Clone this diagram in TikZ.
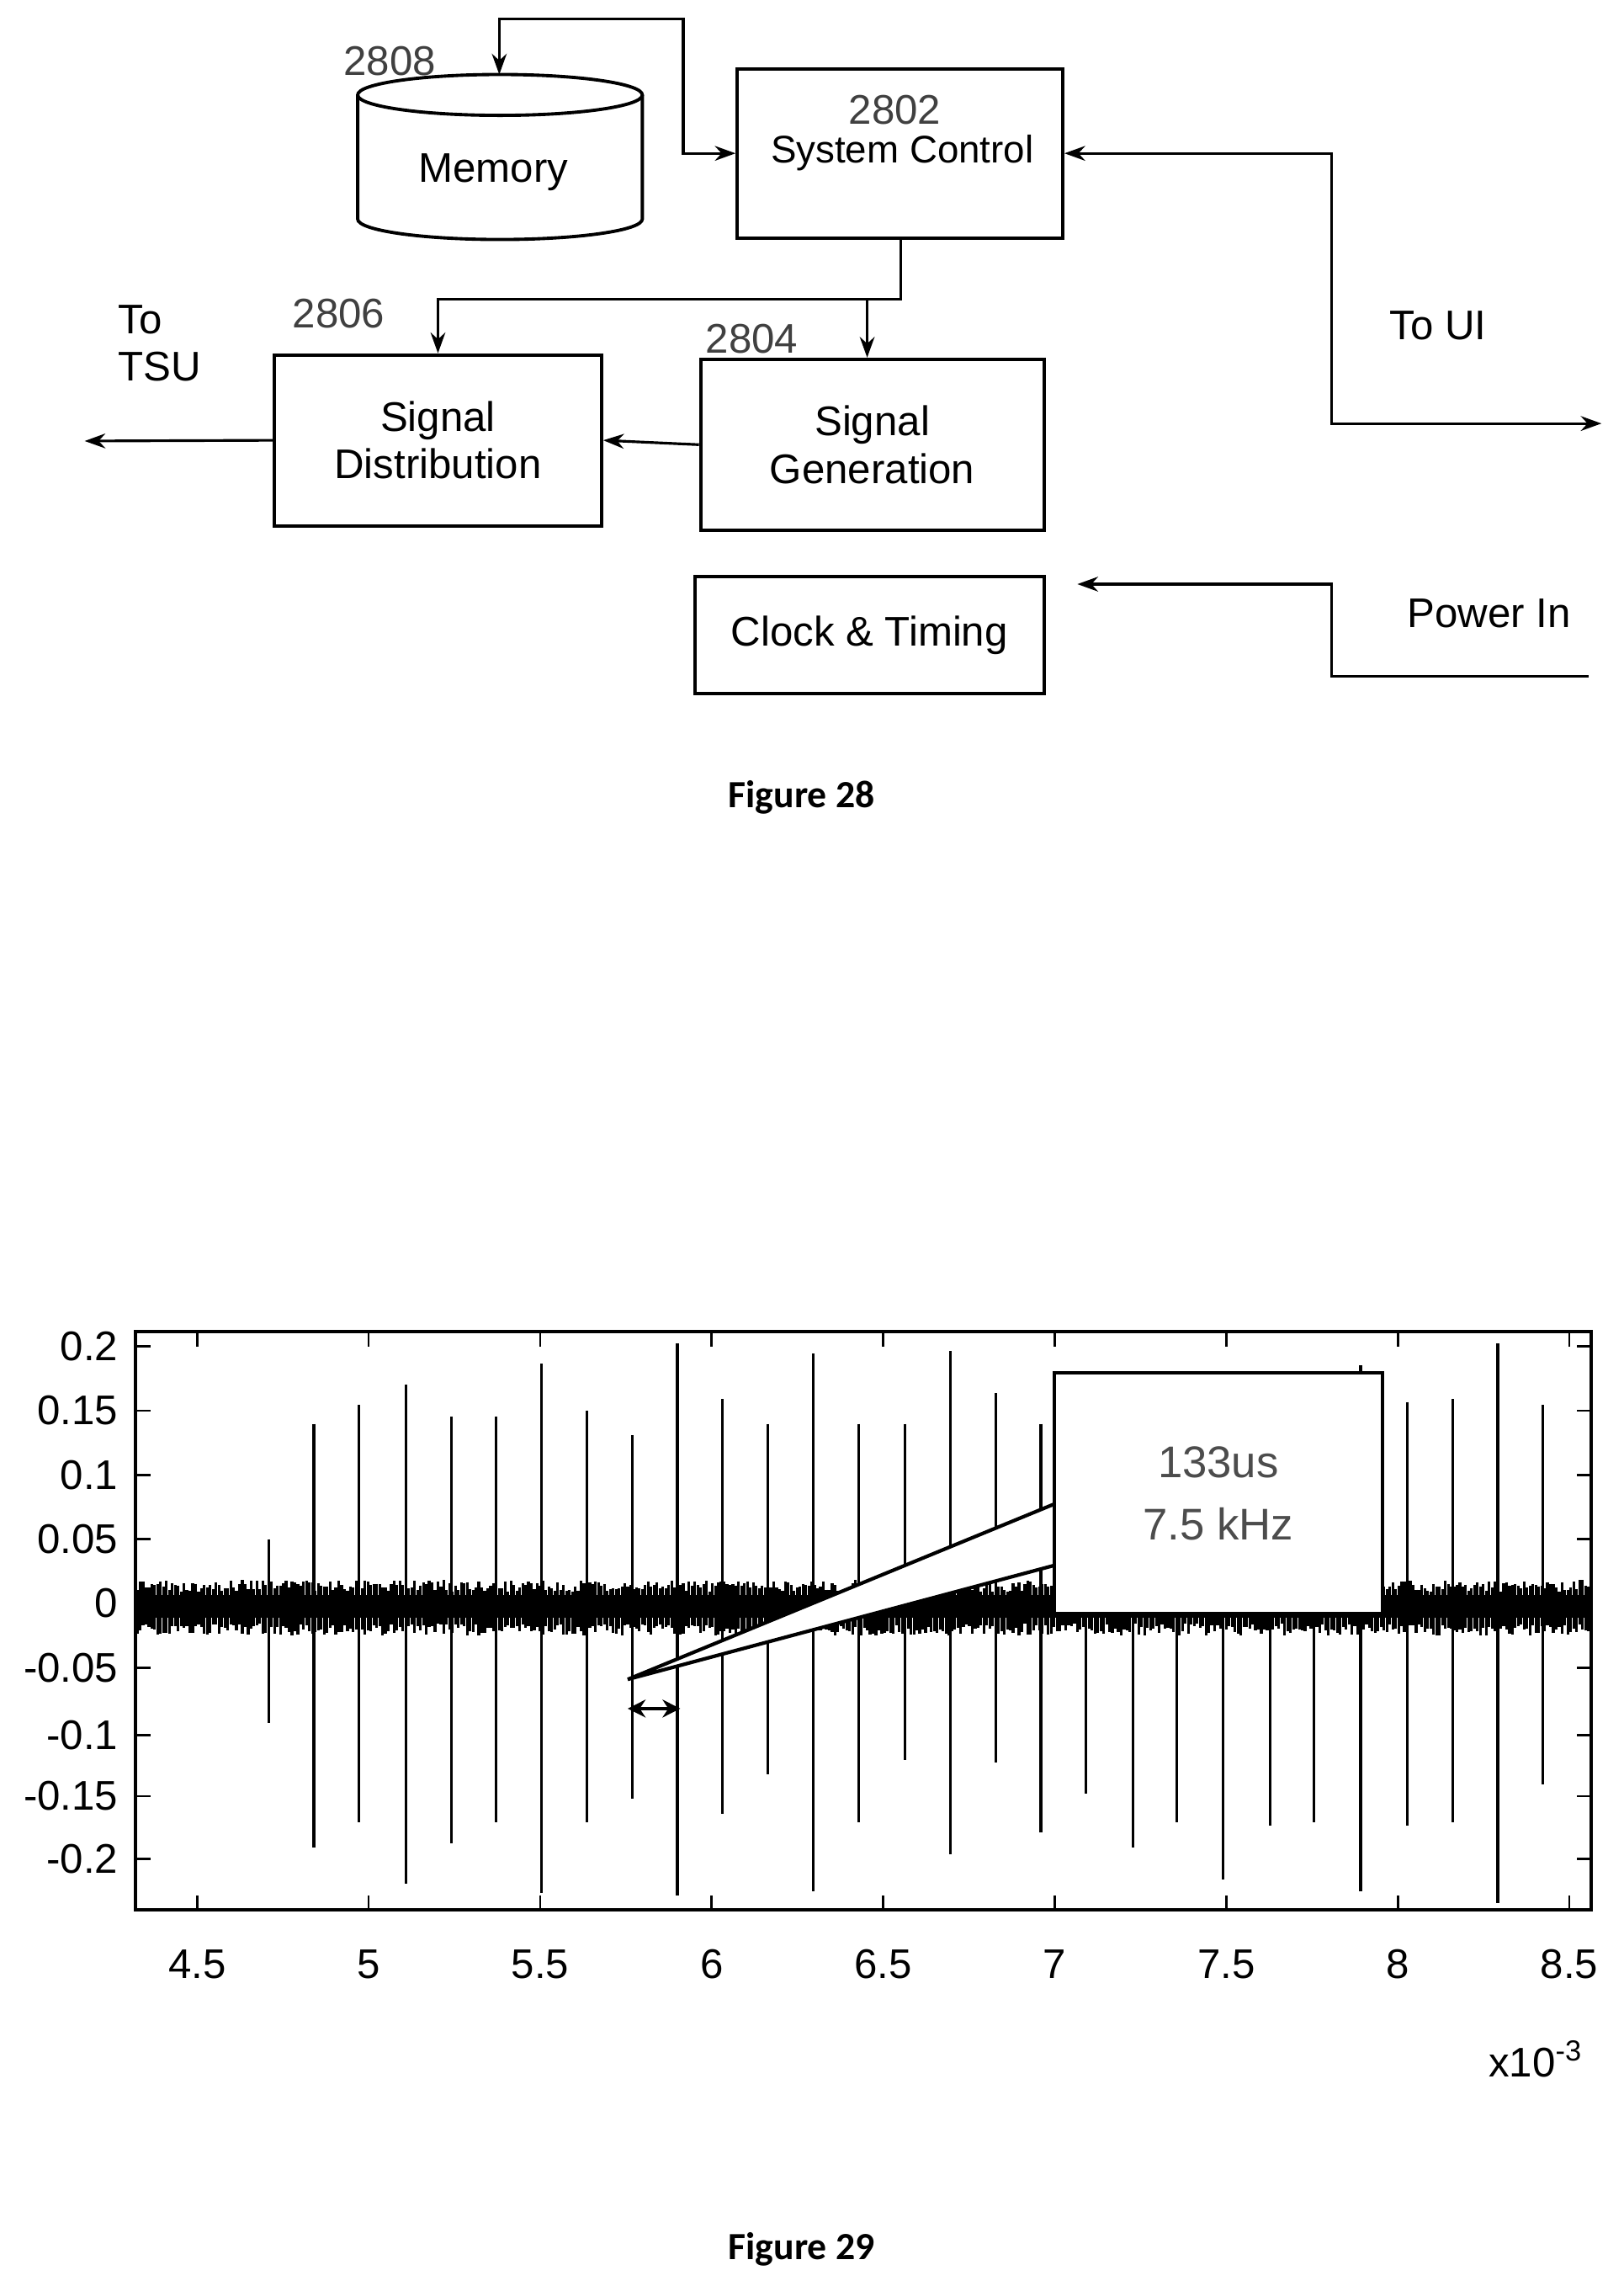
\documentclass[tikz,border=0pt]{standalone}
\usepackage{fontspec}
\setmainfont{Liberation Sans}
\newfontfamily\capfont{Carlito}
\usetikzlibrary{arrows.meta,positioning,calc}

\begin{document}
\begin{tikzpicture}[
    x=0.01735cm, y=-0.01735cm,
    every node/.style={font=\fontsize{14}{16}\selectfont},
    block/.style={rectangle, draw=black, line width=1.1pt, text centered, align=center},
    refnum/.style={text=black!75, font=\fontsize{14}{16}\selectfont},
    arrow/.style={-{Stealth[length=7pt,width=5pt]}, line width=0.9pt},
    spike/.style={line width=0.9pt},
    noise/.style={line width=0.9pt},
    caption/.style={font=\capfont\bfseries\fontsize{13}{15}\selectfont}
]
\useasboundingbox (0,0) rectangle (1112,1562);

% Memory
\draw[line width=1.1pt, fill=white] (245,65) -- (245,150) arc[start angle=180, end angle=0, x radius=97.5, y radius=14] -- (440,65);
\draw[line width=1.1pt] (342.5,65) ellipse[x radius=97.5, y radius=14];
\coordinate (memtop) at (342,51);
\node (mem) at (338,118) {Memory};
\node[refnum] (n2808) at (267,42) {2808};

% Blocks
\node[block, minimum width=3.87cm, minimum height=2.01cm] (sysctl) at (616.5,105) {};
\node[refnum] (n2802) at (613,75) {2802};
\node[font=\fontsize{13}{15}\selectfont] (sclabel) at (618,105) {System Control};
\node[block, minimum width=3.89cm, minimum height=2.03cm] (dist) at (300,301.5) {Signal\\Distribution};
\node[refnum] (n2806) at (232,215) {2806};
\node[block, minimum width=4.08cm, minimum height=2.03cm] (gen) at (597.5,304.5) {Signal\\Generation};
\node[refnum] (n2804) at (515,232) {2804};
\node[block, minimum width=4.15cm, minimum height=1.39cm] (clock) at (595.5,435) {Clock \& Timing};

% Labels
\node[align=left, anchor=west] (tsu) at (74,235) {To\\TSU};
\node (ui) at (985,223) {To UI};
\node (pwr) at (1020,420) {Power In};
\coordinate (tsuend) at (58,302);
\coordinate (uiend) at (1097,290);
\coordinate (pwrend) at (1088,463);
\coordinate (clkin) at (738,400);

% Connections
\draw[arrow, {Stealth[length=7pt,width=5pt]}-{Stealth[length=7pt,width=5pt]}] (memtop) |- (468,13) |- (sysctl.west);
\draw[arrow] (617,163) -- (617,205) -| (dist.north -| 300,0);
\draw[arrow] (594,205) -- (gen.north -| 594,0);
\draw[arrow] (gen.west) -- (dist.east);
\draw[arrow] (dist.west) -- (tsuend);
\draw[arrow, {Stealth[length=7pt,width=5pt]}-{Stealth[length=7pt,width=5pt]}] (sysctl.east) -| (912,290) -- (uiend);
\draw[arrow] (pwrend) -| (912,400) -- (clkin);

\node[caption] (fig28) at (549,546) {Figure 28};

% Plot axes
\draw[line width=1.1pt] (93,912) rectangle (1090,1308);
\foreach \v/\yy in {0.2/922,0.15/966,0.1/1010,0.05/1054,0/1098,-0.05/1142,-0.1/1188,-0.15/1230,-0.2/1273}
  \node[anchor=east] at (88,\yy) {\v};
\foreach \v in {4.5,5,5.5,6,6.5,7,7.5,8,8.5} {
  \pgfmathsetmacro\px{135+235*(\v-4.5)}
  \node at (\px,1345) {\v};
  \draw[line width=0.8pt] (\px,1308) -- (\px,1298);
  \draw[line width=0.8pt] (\px,912) -- (\px,922);
}
\foreach \yy in {922,966,1010,1054,1098,1142,1188,1230,1273} {
  \draw[line width=0.8pt] (93,\yy) -- (103,\yy);
  \draw[line width=0.8pt] (1090,\yy) -- (1080,\yy);
}
\node (xexp) at (1052,1410) {x10\textsuperscript{-3}};

% Noise band
\fill (94,1092) rectangle (1089,1108);
\pgfmathsetseed{7}
\foreach \i in {0,...,497} {
  \pgfmathsetmacro\nx{94+2*\i}
  \pgfmathsetmacro\nt{1082+rnd*8}
  \pgfmathsetmacro\nb{1120-rnd*8}
  \draw[noise] (\nx,\nt) -- (\nx,\nb);
}

% Spikes
\foreach \sx/\st/\sb in {184/1054/1180,215/975/1265,246/962/1248,278/948/1290,309/970/1262,340/970/1248,371/934/1296,402/966/1248,433/983/1232,464/920/1298,495/958/1242,526/975/1215,557/927/1295,588/975/1248,620/975/1205,651/925/1270,682/954/1207,713/975/1255,744/975/1228,776/960/1265,806/975/1248,838/960/1287,870/975/1250,900/975/1248,932/935/1295,964/960/1250,995/958/1248,1026/920/1303,1057/962/1222}
  \draw[spike] (\sx,\st) -- (\sx,\sb);

% Callout
\draw[line width=1.2pt, fill=white] (722,1030) -- (430,1150) -- (722,1072);
\node[block, fill=white, minimum width=3.90cm, minimum height=2.86cm, text=black!70, font=\fontsize{15}{21}\selectfont] (callout) at (834.5,1022.5) {133us\\7.5 kHz};
\draw[line width=1pt, {Stealth[length=6pt,width=6pt]}-{Stealth[length=6pt,width=6pt]}] (430,1170) -- (466,1170);

\node[caption] (fig29) at (549,1540) {Figure 29};
\end{tikzpicture}
\end{document}
